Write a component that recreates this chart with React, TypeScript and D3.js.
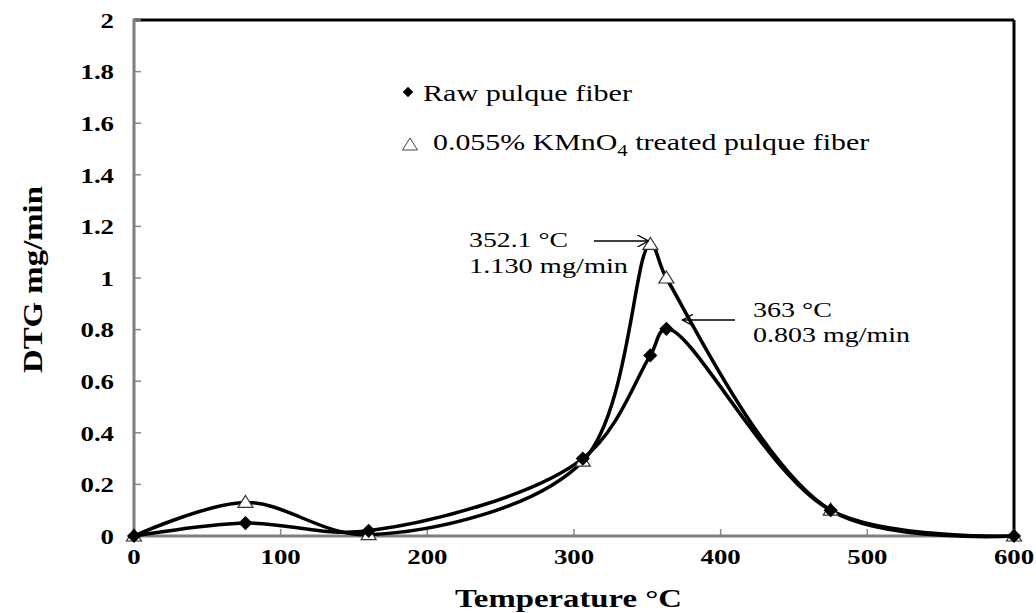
import React from 'react';
import * as d3 from 'd3';

// temperature (°C) and DTG (mg/min)
const rawTemp = [0, 76, 160, 306, 352, 363, 475, 600];
const rawDtg = [0, 0.05, 0.02, 0.3, 0.7, 0.803, 0.1, 0];

const kmTemp = [0, 76, 160, 306, 352.1, 363, 475, 600];
const kmDtg = [0, 0.13, 0.005, 0.29, 1.13, 1.0, 0.1, 0];

const xTicks = [0, 100, 200, 300, 400, 500, 600];
const yTicks = [0, 0.2, 0.4, 0.6, 0.8, 1, 1.2, 1.4, 1.6, 1.8, 2];

const width = 1036;
const height = 613;
const margin = { left: 134, right: 22, top: 20, bottom: 77 };

const font = 'Liberation Serif, serif';
// the source picture is a bit wider than tall, text included
const stretch = 1.22;

export default function App() {
  const x = d3.scaleLinear().domain([0, 600]).range([margin.left, width - margin.right]);
  const y = d3.scaleLinear().domain([0, 2]).range([height - margin.bottom, margin.top]);

  const raw = rawTemp.map((t, i) => [t, rawDtg[i]] as [number, number]);
  const km = kmTemp.map((t, i) => [t, kmDtg[i]] as [number, number]);

  const curve = d3
    .line<[number, number]>()
    .x(d => x(d[0]))
    .y(d => y(d[1]))
    .curve(d3.curveCatmullRom.alpha(0.5));

  const diamond = d3.symbol().type(d3.symbolSquare).size(100)()!;
  const tri = (cx: number, cy: number) =>
    `M${cx},${cy - 7}L${cx + 7.5},${cy + 5}L${cx - 7.5},${cy + 5}Z`;

  const x0 = x(0), x1 = x(600), y0 = y(0), y1 = y(2);

  const peakKm = { x: x(352.1), y: y(1.13) };
  const peakRaw = { x: x(363), y: y(0.803) };

  return (
    <svg width={width} height={height} style={{ display: 'block', position: 'absolute', left: 0, top: 0 }}>
      <rect width={width} height={height} fill="#fff" />

      <line x1={x0} x2={x1} y1={y1} y2={y1} stroke="#000" strokeWidth={3} />
      <line x1={x1} x2={x1} y1={y1} y2={y0} stroke="#000" strokeWidth={3} />

      {yTicks.map(t => (
        <g key={'y' + t}>
          <line x1={x0} x2={x0 + 7} y1={y(t)} y2={y(t)} stroke="#8a8a8a" strokeWidth={1.5} />
          <text
            transform={`translate(114,${y(t)}) scale(${stretch},1)`}
            dy="0.35em"
            textAnchor="end"
            fontFamily={font}
            fontWeight="bold"
            fontSize={22}
          >
            {t}
          </text>
        </g>
      ))}
      {xTicks.map(t => (
        <g key={'x' + t}>
          <line x1={x(t)} x2={x(t)} y1={y0} y2={y0 - 7} stroke="#8a8a8a" strokeWidth={1.5} />
          <text
            transform={`translate(${x(t)},${y0 + 28}) scale(${stretch},1)`}
            textAnchor="middle"
            fontFamily={font}
            fontWeight="bold"
            fontSize={22}
          >
            {t}
          </text>
        </g>
      ))}
      <line x1={x0} x2={x1} y1={y0} y2={y0} stroke="#7f7f7f" strokeWidth={3} />
      <line x1={x0} x2={x0} y1={y1 - 1.5} y2={y0} stroke="#7f7f7f" strokeWidth={3} />

      <path d={curve(km)!} fill="none" stroke="#000" strokeWidth={3.5} />
      <path d={curve(raw)!} fill="none" stroke="#000" strokeWidth={3.5} />

      {km.map((d, i) => (
        <path key={'k' + i} d={tri(x(d[0]), y(d[1]))} fill="#fff" stroke="#333" strokeWidth={1.2} />
      ))}
      {raw.map((d, i) => (
        <path key={'r' + i} d={diamond} transform={`translate(${x(d[0])},${y(d[1])}) rotate(45)`} fill="#000" />
      ))}

      {/* legend */}
      <path d={diamond} transform="translate(408,92) rotate(45) scale(0.75)" fill="#000" />
      <text x={423} y={101} fontFamily={font} fontSize={23} textLength={209} lengthAdjust="spacingAndGlyphs">
        Raw pulque fiber
      </text>
      <path d={tri(410, 145)} fill="#fff" stroke="#444" strokeWidth={1} />
      <text transform="translate(433,150) scale(1.3,1)" fontFamily={font} fontSize={23}>
        0.055% KMnO<tspan fontSize={16} dy={6}>4</tspan>
        <tspan dy={-6}> treated pulque fiber</tspan>
      </text>

      {/* annotations */}
      <defs>
        <marker id="open" viewBox="0 0 12 12" refX={11} refY={6} markerWidth={12} markerHeight={12} orient="auto" markerUnits="userSpaceOnUse">
          <path d="M0,0L11,6L0,12" fill="none" stroke="#000" strokeWidth={1.3} />
        </marker>
      </defs>
      <text x={469} y={247} fontFamily={font} fontSize={22} textLength={99} lengthAdjust="spacingAndGlyphs">352.1 °C</text>
      <text x={469} y={273} fontFamily={font} fontSize={22} textLength={159} lengthAdjust="spacingAndGlyphs">1.130 mg/min</text>
      <line x1={594} x2={peakKm.x - 2} y1={241} y2={241} stroke="#000" strokeWidth={1.5} markerEnd="url(#open)" />

      <text x={753} y={317} fontFamily={font} fontSize={22} textLength={79} lengthAdjust="spacingAndGlyphs">363 °C</text>
      <text x={753} y={342} fontFamily={font} fontSize={22} textLength={157} lengthAdjust="spacingAndGlyphs">0.803 mg/min</text>
      <line x1={735} x2={peakRaw.x + 16} y1={320} y2={320} stroke="#000" strokeWidth={1.5} markerEnd="url(#open)" />

      <text x={455} y={607} fontFamily={font} fontWeight="bold" fontSize={26} textLength={227} lengthAdjust="spacingAndGlyphs">
        Temperature °C
      </text>
      <text
        transform="translate(42,373) rotate(-90)"
        fontFamily={font}
        fontWeight="bold"
        fontSize={27}
        textLength={187}
        lengthAdjust="spacingAndGlyphs"
      >
        DTG mg/min
      </text>
    </svg>
  );
}
